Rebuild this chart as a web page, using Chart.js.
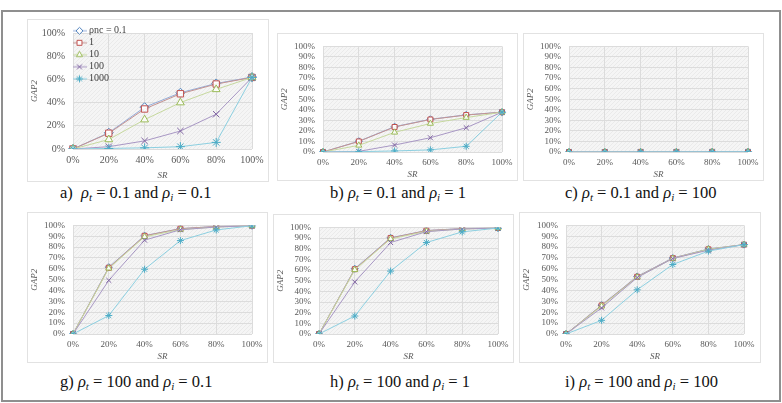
<!DOCTYPE html>
<html lang="en">
<head>
  <meta charset="UTF-8">
  <title>GAP2 vs SR</title>
  <script src="https://cdn.jsdelivr.net/npm/chart.js"></script>
  <style>
    body {
      margin: 0;
      width: 782px;
      height: 403px;
      position: relative;
      overflow: hidden;
      background: #fff;
      font-family: "Liberation Serif", serif;
    }
    .frame {
      position: absolute;
      left: 1px; top: 10px;
      width: 776px; height: 388px;
      border: 2px solid #8f8f8f;
    }
    .card {
      position: absolute;
      background: #fff;
      outline: 1px solid #e2e2e2;
      outline-offset: -1px;
    }
    .card canvas { position: absolute; left: 0; top: 0; }
    .cap {
      position: absolute;
      font-size: 16.5px;
      white-space: nowrap;
      color: #111;
    }
    .cap sub { font-size: 11px; vertical-align: -3px; }
  </style>
</head>
<body>
  <div class="frame"></div>

  <div class="card" style="left:27px;top:19px;width:242px;height:163px"><canvas id="cA" width="242" height="163"></canvas></div>
  <div class="card" style="left:277px;top:33px;width:241px;height:148px"><canvas id="cB" width="241" height="148"></canvas></div>
  <div class="card" style="left:523px;top:33px;width:241px;height:148px"><canvas id="cC" width="241" height="148"></canvas></div>
  <div class="card" style="left:27px;top:212px;width:241px;height:151px"><canvas id="cG" width="241" height="151"></canvas></div>
  <div class="card" style="left:273px;top:214px;width:241px;height:149px"><canvas id="cH" width="241" height="149"></canvas></div>
  <div class="card" style="left:519px;top:212px;width:242px;height:151px"><canvas id="cI" width="242" height="151"></canvas></div>

  <div class="cap" style="left:60px;top:183px">a)&nbsp; <i>ρ</i><sub><i>t</i></sub> = 0.1 and <i>ρ</i><sub><i>i</i></sub> = 0.1</div>
  <div class="cap" style="left:330px;top:183px">b) <i>ρ</i><sub><i>t</i></sub> = 0.1 and <i>ρ</i><sub><i>i</i></sub> = 1</div>
  <div class="cap" style="left:565px;top:183px">c) <i>ρ</i><sub><i>t</i></sub> = 0.1 and <i>ρ</i><sub><i>i</i></sub> = 100</div>
  <div class="cap" style="left:60px;top:372px">g) <i>ρ</i><sub><i>t</i></sub> = 100 and <i>ρ</i><sub><i>i</i></sub> = 0.1</div>
  <div class="cap" style="left:330px;top:372px">h) <i>ρ</i><sub><i>t</i></sub> = 100 and <i>ρ</i><sub><i>i</i></sub> = 1</div>
  <div class="cap" style="left:565px;top:372px">i) <i>ρ</i><sub><i>t</i></sub> = 100 and <i>ρ</i><sub><i>i</i></sub> = 100</div>

  <script>
    // x categories (SR) and series names (rho_nc)
    const srLabels = ['0%', '20%', '40%', '60%', '80%', '100%'];
    const seriesNames = ['ρnc = 0.1', '1', '10', '100', '1000'];

    // GAP2 values in %, one row per series: 0.1, 1, 10, 100, 1000
    const gapA = [
      [0, 14, 36, 48.5, 56.5, 62],
      [0, 13.6, 34.5, 47.6, 56, 61.7],
      [0, 8.2, 25.3, 40, 51.4, 61.7],
      [0, 2, 7, 15.5, 30, 61.7],
      [0, 0.5, 1, 2, 5.7, 61.7]
    ];
    const gapB = [
      [0, 10.2, 24, 31, 35.2, 37.7],
      [0, 10, 23.7, 30.8, 35, 37.7],
      [0, 6.3, 18.6, 27, 32.6, 37.7],
      [0, 0.6, 6.6, 13.5, 23, 37.7],
      [0, 0.3, 1, 2, 5.4, 37.7]
    ];
    const gapC = [
      [0, 0, 0.1, 0.1, 0.2, 0.2],
      [0, 0, 0.1, 0.1, 0.2, 0.2],
      [0, 0, 0.1, 0.1, 0.2, 0.2],
      [0, 0, 0.1, 0.1, 0.2, 0.2],
      [0, 0, 0.1, 0.1, 0.2, 0.2]
    ];
    const gapG = [
      [0, 61.5, 90.6, 97, 99, 99.7],
      [0, 61, 90.4, 97, 99, 99.7],
      [0, 60.5, 89.5, 96.2, 98.5, 99.7],
      [0, 49.4, 86.4, 96, 98.5, 99.7],
      [0, 17, 59.6, 86, 95.8, 99.7]
    ];
    const gapH = [
      [0, 61.2, 90.3, 97, 98.9, 99.4],
      [0, 60.8, 90, 97, 98.8, 99.4],
      [0, 60.2, 89.2, 96.3, 98.5, 99.4],
      [0, 48.8, 85.8, 96, 98.5, 99.4],
      [0, 16.9, 59, 85.8, 95.8, 99.4]
    ];
    const gapI = [
      [0, 26.6, 53, 70, 78.3, 82.3],
      [0, 26.3, 52.7, 69.8, 78, 82.3],
      [0, 25.6, 52.3, 69.5, 78, 82.3],
      [0, 24, 52, 69.5, 77.2, 82.3],
      [0, 12.6, 40.7, 64, 76.3, 82.3]
    ];

    const markColors = ['#4f81bd', '#c0504d', '#9bbb59', '#8064a2', '#4bacc6'];
    const lineColors = ['#94acd8', '#c49391', '#c6d89e', '#a897c4', '#8ccfe0'];
    const markStyles = ['rectRot', 'rect', 'triangle', 'crossRot', 'star'];
    const serif = '"Liberation Serif", "Times New Roman", serif';

    // hatched plot background
    const pat = document.createElement('canvas');
    pat.width = 4; pat.height = 4;
    const pg = pat.getContext('2d');
    pg.fillStyle = '#f5f5f5';
    pg.fillRect(0, 0, 4, 4);
    pg.fillStyle = '#eaeaea';
    for (let i = 0; i < 4; i++) pg.fillRect(i, 3 - i, 1, 1);

    const hatch = {
      id: 'hatch',
      beforeDraw(chart) {
        const a = chart.chartArea, ctx = chart.ctx;
        ctx.save();
        ctx.fillStyle = ctx.createPattern(pat, 'repeat');
        ctx.fillRect(a.left, a.top, a.right - a.left, a.bottom - a.top);
        ctx.restore();
      }
    };

    // small line + marker icons for the legend
    const legendIcons = markColors.map((c, i) => {
      const cv = document.createElement('canvas');
      cv.width = 15; cv.height = 10;
      const g = cv.getContext('2d');
      g.strokeStyle = lineColors[i];
      g.lineWidth = 1;
      g.beginPath(); g.moveTo(0, 5); g.lineTo(15, 5); g.stroke();
      g.strokeStyle = c;
      g.fillStyle = '#fff';
      Chart.helpers.drawPoint(g, { pointStyle: markStyles[i], radius: 3.5, rotation: 0, borderWidth: 1 }, 7.5, 5);
      return cv;
    });

    function panel(id, rows, p) {
      new Chart(document.getElementById(id), {
        type: 'line',
        data: {
          labels: srLabels,
          datasets: rows.map((vals, i) => ({
            label: seriesNames[i],
            data: vals,
            borderColor: lineColors[i],
            borderWidth: 1,
            pointStyle: markStyles[i],
            pointRadius: p.r,
            pointBorderWidth: 1,
            pointBorderColor: markColors[i],
            pointBackgroundColor: 'rgba(255,255,255,0.85)',
            tension: 0,
            order: rows.length - 1 - i
          }))
        },
        options: {
          responsive: false,
          animation: false,
          layout: { padding: { left: 0, top: p.top, right: p.right, bottom: 0 } },
          plugins: {
            tooltip: { enabled: false },
            legend: p.legend ? {
              display: true,
              position: 'chartArea',
              align: 'start',
              title: { display: true, text: ' ', font: { size: 4 }, padding: 0 },
              labels: {
                usePointStyle: true,
                pointStyleWidth: 9,
                padding: 2,
                color: '#404040',
                font: { family: serif, size: 10 },
                generateLabels: (chart) => chart.data.datasets.map((ds, i) => ({
                  text: ds.label,
                  pointStyle: legendIcons[i],
                  fillStyle: 'transparent',
                  strokeStyle: 'transparent',
                  lineWidth: 0,
                  hidden: false,
                  datasetIndex: i,
                  fontColor: '#404040'
                }))
              }
            } : { display: false }
          },
          scales: {
            x: {
              offset: false,
              grid: { color: '#dcdcdc', drawTicks: false, offset: false },
              border: { display: false },
              ticks: { padding: 5, color: '#595959', maxRotation: 0, autoSkip: false, font: { family: serif, size: p.fs } },
              title: { display: true, text: 'SR', color: '#595959', padding: { top: 0, bottom: p.sb }, font: { family: serif, size: 9, style: 'italic' } },
              afterFit: (s) => { s.height = p.bottom; }
            },
            y: {
              min: 0, max: 100,
              grid: { color: '#dcdcdc', drawTicks: false },
              border: { display: false },
              ticks: { stepSize: p.step, autoSkip: false, padding: 8, color: '#595959', font: { family: serif, size: p.fs }, callback: (v) => v + '%' },
              title: { display: true, text: 'GAP2', color: '#595959', padding: { top: 2, bottom: 0 }, font: { family: serif, size: 9, style: 'italic' } },
              afterFit: (s) => { s.width = p.left; }
            }
          }
        },
        plugins: [hatch]
      });
    }

    panel('cA', gapA, { left: 46, top: 7, right: 17, bottom: 33, step: 20, fs: 10, r: 4.5, sb: 1, legend: true });
    panel('cB', gapB, { left: 46, top: 7, right: 16, bottom: 29, step: 10, fs: 9, r: 3.5, sb: 1 });
    panel('cC', gapC, { left: 46, top: 8, right: 16, bottom: 29, step: 10, fs: 9, r: 3.5, sb: 1 });
    panel('cG', gapG, { left: 46, top: 11, right: 16, bottom: 29, step: 10, fs: 9, r: 3.5, sb: 1 });
    panel('cH', gapH, { left: 46, top: 9, right: 16, bottom: 29, step: 10, fs: 9, r: 3.5, sb: 1 });
    panel('cI', gapI, { left: 47, top: 11, right: 17, bottom: 29, step: 10, fs: 9, r: 3.5, sb: 1 });
  </script>
</body>
</html>
